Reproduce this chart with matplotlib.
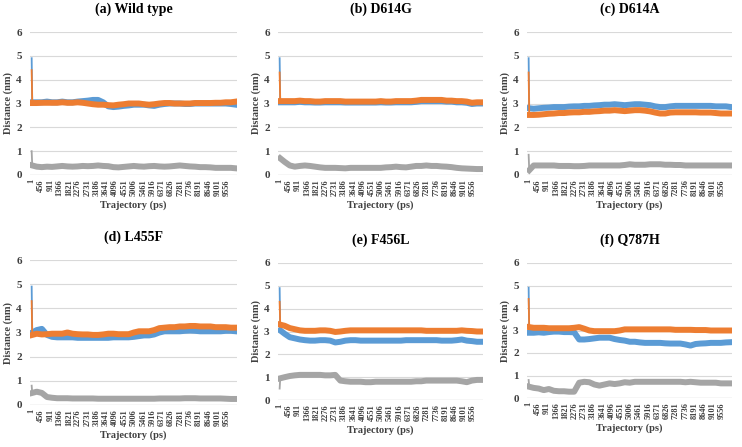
import matplotlib
matplotlib.use("Agg")
from matplotlib import pyplot as plt

# trajectory sample points (ps): first frame, fast relaxation, then every 250 ps
frames = [1, 30] + [250 * k for k in range(1, 41)]
tick_vals = list(range(1, 10001, 455))

titles = ["(a) Wild type", "(b) D614G", "(c) D614A",
          "(d) L455F", "(e) F456L", "(f) Q787H"]

blue_a = [4.9, 3.05] + [3.05, 3.05, 3.08, 3.05, 3.05, 3.08, 3.05, 3.05, 3.08, 3.1,
                        3.12, 3.15, 3.15, 3.05, 2.88, 2.85, 2.87, 2.9, 2.92, 2.95,
                        2.95, 2.95, 2.92, 2.9, 2.95, 2.98, 3.0, 3.0, 3.0, 2.98,
                        2.98, 3.0, 3.0, 3.0, 3.0, 3.0, 3.0, 3.0, 2.98, 2.95]
orange_a = [4.4, 3.02] + [3.02, 3.03, 3.03, 3.03, 3.03, 3.05, 3.03, 3.03, 3.05, 3.03,
                          3.0, 2.97, 2.95, 2.95, 2.93, 2.92, 2.95, 2.97, 3.0, 3.0,
                          3.0, 2.97, 2.95, 2.97, 3.0, 3.02, 3.02, 3.0, 3.0, 3.0,
                          3.0, 3.02, 3.02, 3.02, 3.02, 3.03, 3.03, 3.05, 3.05, 3.08]
gray_a = [1.0, 0.4] + [0.35, 0.33, 0.35, 0.34, 0.36, 0.38, 0.36, 0.35, 0.36, 0.38,
                       0.37, 0.38, 0.4, 0.38, 0.37, 0.33, 0.32, 0.34, 0.36, 0.38,
                       0.36, 0.35, 0.37, 0.38, 0.36, 0.35, 0.36, 0.38, 0.4, 0.38,
                       0.36, 0.35, 0.33, 0.33, 0.32, 0.3, 0.3, 0.3, 0.3, 0.28]

blue_b = [4.9, 3.05] + [3.05, 3.05, 3.05, 3.07, 3.05, 3.05, 3.04, 3.04, 3.05, 3.05,
                        3.05, 3.05, 3.04, 3.04, 3.04, 3.04, 3.04, 3.04, 3.04, 3.05,
                        3.04, 3.04, 3.05, 3.05, 3.05, 3.05, 3.07, 3.1, 3.1, 3.1,
                        3.1, 3.1, 3.08, 3.08, 3.05, 3.05, 3.03, 2.98, 3.0, 3.0]
orange_b = [4.3, 3.1] + [3.1, 3.1, 3.1, 3.12, 3.1, 3.1, 3.08, 3.08, 3.1, 3.1,
                         3.1, 3.1, 3.08, 3.08, 3.08, 3.08, 3.08, 3.08, 3.08, 3.1,
                         3.08, 3.08, 3.1, 3.1, 3.1, 3.1, 3.12, 3.15, 3.15, 3.15,
                         3.15, 3.15, 3.12, 3.12, 3.1, 3.1, 3.08, 3.03, 3.05, 3.05]
gray_b = [0.8, 0.7] + [0.55, 0.4, 0.35, 0.38, 0.4, 0.38, 0.35, 0.32, 0.3, 0.3,
                       0.3, 0.29, 0.28, 0.3, 0.3, 0.3, 0.3, 0.3, 0.3, 0.3,
                       0.32, 0.33, 0.35, 0.33, 0.32, 0.35, 0.38, 0.38, 0.4, 0.38,
                       0.38, 0.36, 0.35, 0.33, 0.3, 0.28, 0.27, 0.26, 0.25, 0.25]

blue_c = [4.9, 2.8] + [2.78, 2.8, 2.82, 2.83, 2.85, 2.85, 2.85, 2.87, 2.88, 2.88,
                       2.9, 2.9, 2.92, 2.93, 2.95, 2.95, 2.97, 2.95, 2.93, 2.95,
                       2.97, 2.97, 2.95, 2.93, 2.88, 2.85, 2.85, 2.88, 2.9, 2.9,
                       2.9, 2.9, 2.9, 2.9, 2.9, 2.9, 2.88, 2.88, 2.88, 2.85]
orange_c = [4.3, 2.52] + [2.52, 2.53, 2.55, 2.57, 2.58, 2.6, 2.6, 2.62, 2.63, 2.63,
                          2.65, 2.65, 2.67, 2.68, 2.7, 2.7, 2.72, 2.7, 2.68, 2.7,
                          2.72, 2.72, 2.7, 2.67, 2.62, 2.58, 2.58, 2.62, 2.63, 2.63,
                          2.63, 2.63, 2.63, 2.62, 2.62, 2.62, 2.6, 2.58, 2.58, 2.58]
gray_c = [0.85, 0.2] + [0.4, 0.4, 0.4, 0.4, 0.4, 0.38, 0.38, 0.38, 0.37, 0.37,
                        0.38, 0.4, 0.4, 0.4, 0.4, 0.4, 0.4, 0.4, 0.42, 0.45,
                        0.43, 0.43, 0.43, 0.45, 0.45, 0.45, 0.43, 0.43, 0.42, 0.42,
                        0.4, 0.4, 0.4, 0.4, 0.4, 0.4, 0.4, 0.4, 0.4, 0.4]

blue_d = [4.9, 3.0] + [3.1, 3.15, 2.9, 2.82, 2.8, 2.8, 2.8, 2.8, 2.78, 2.78,
                       2.78, 2.78, 2.78, 2.78, 2.78, 2.8, 2.8, 2.8, 2.8, 2.82,
                       2.85, 2.88, 2.88, 2.92, 3.0, 3.05, 3.05, 3.05, 3.05, 3.07,
                       3.08, 3.07, 3.05, 3.05, 3.05, 3.05, 3.05, 3.07, 3.07, 3.05]
orange_d = [4.3, 2.9] + [2.95, 2.92, 2.93, 2.95, 2.95, 2.95, 3.0, 2.95, 2.93, 2.92,
                         2.92, 2.9, 2.9, 2.92, 2.95, 2.95, 2.93, 2.93, 2.93, 3.0,
                         3.05, 3.05, 3.05, 3.1, 3.18, 3.2, 3.22, 3.22, 3.25, 3.25,
                         3.27, 3.27, 3.25, 3.25, 3.25, 3.22, 3.22, 3.22, 3.2, 3.2]
gray_d = [0.8, 0.5] + [0.55, 0.5, 0.33, 0.3, 0.28, 0.28, 0.28, 0.27, 0.27, 0.27,
                       0.27, 0.27, 0.26, 0.26, 0.26, 0.26, 0.26, 0.26, 0.26, 0.26,
                       0.26, 0.26, 0.26, 0.26, 0.27, 0.27, 0.27, 0.27, 0.27, 0.28,
                       0.28, 0.28, 0.27, 0.27, 0.27, 0.27, 0.27, 0.26, 0.25, 0.25]

blue_e = [4.9, 3.05] + [2.9, 2.75, 2.7, 2.65, 2.62, 2.6, 2.6, 2.62, 2.62, 2.6,
                        2.52, 2.55, 2.6, 2.62, 2.62, 2.6, 2.6, 2.6, 2.6, 2.6,
                        2.6, 2.6, 2.6, 2.6, 2.62, 2.62, 2.62, 2.62, 2.62, 2.62,
                        2.62, 2.6, 2.6, 2.6, 2.62, 2.65, 2.6, 2.58, 2.55, 2.55]
orange_e = [4.3, 3.3] + [3.25, 3.15, 3.1, 3.05, 3.03, 3.03, 3.03, 3.05, 3.05, 3.03,
                         2.98, 3.0, 3.03, 3.05, 3.05, 3.05, 3.05, 3.05, 3.05, 3.05,
                         3.05, 3.05, 3.05, 3.05, 3.05, 3.05, 3.05, 3.05, 3.03, 3.03,
                         3.03, 3.03, 3.03, 3.03, 3.03, 3.05, 3.03, 3.02, 3.0, 3.0]
gray_e = [0.5, 0.95] + [1.0, 1.05, 1.08, 1.1, 1.1, 1.1, 1.1, 1.1, 1.08, 1.08,
                        1.1, 0.85, 0.82, 0.8, 0.8, 0.8, 0.78, 0.78, 0.8, 0.8,
                        0.8, 0.8, 0.8, 0.8, 0.8, 0.8, 0.82, 0.82, 0.85, 0.85,
                        0.85, 0.85, 0.85, 0.85, 0.85, 0.82, 0.78, 0.85, 0.88, 0.88]

blue_f = [4.9, 2.9] + [2.9, 2.92, 2.9, 2.93, 2.95, 2.95, 2.93, 2.93, 2.92, 2.6,
                       2.6, 2.62, 2.65, 2.68, 2.68, 2.68, 2.62, 2.58, 2.55, 2.5,
                       2.5, 2.47, 2.45, 2.45, 2.45, 2.45, 2.43, 2.42, 2.42, 2.42,
                       2.38, 2.33, 2.4, 2.42, 2.43, 2.45, 2.45, 2.45, 2.47, 2.48]
orange_f = [4.4, 3.15] + [3.12, 3.12, 3.12, 3.1, 3.1, 3.1, 3.1, 3.1, 3.12, 3.15,
                          3.08, 3.0, 2.97, 2.97, 2.97, 2.97, 2.97, 3.0, 3.05, 3.05,
                          3.05, 3.05, 3.05, 3.05, 3.05, 3.05, 3.05, 3.05, 3.03, 3.03,
                          3.03, 3.03, 3.02, 3.02, 3.02, 3.0, 3.0, 3.0, 3.0, 3.0]
gray_f = [0.8, 0.5] + [0.45, 0.42, 0.35, 0.4, 0.32, 0.3, 0.3, 0.28, 0.28, 0.68,
                       0.72, 0.7, 0.6, 0.55, 0.6, 0.65, 0.62, 0.65, 0.7, 0.68,
                       0.72, 0.72, 0.72, 0.72, 0.72, 0.72, 0.72, 0.72, 0.72, 0.72,
                       0.7, 0.72, 0.7, 0.68, 0.68, 0.68, 0.68, 0.65, 0.65, 0.65]

blues = [blue_a, blue_b, blue_c, blue_d, blue_e, blue_f]
oranges = [orange_a, orange_b, orange_c, orange_d, orange_e, orange_f]
grays = [gray_a, gray_b, gray_c, gray_d, gray_e, gray_f]

# axes boxes in pixels: left, right, top (y=6), bottom (y=0)
W, H = 742, 447
boxes = [(30, 237, 32, 175), (278, 483, 32, 175), (527, 732, 32, 175),
         (30, 237, 260, 405), (278, 483, 263, 400), (527, 732, 263, 398)]

serif = "Liberation Serif"
fig = plt.figure(figsize=(W / 100, H / 100), dpi=100)


def draw_series(ax, vals, color):
    # thin line for the start-up spike, thick band for the rest
    ax.plot(frames[:3], vals[:3], color=color, lw=1.3)
    ax.plot(frames[1:], vals[1:], color=color, lw=4.3, solid_joinstyle="round")


for i, (x0, x1, yt, yb) in enumerate(boxes):
    ax = fig.add_axes([x0 / W, 1 - yb / H, (x1 - x0) / W, (yb - yt) / H])
    for y in range(1, 7):
        ax.axhline(y, color="#d9d9d9", lw=0.8, zorder=0)
    ax.axhline(0, color="#bfbfbf", lw=0.9, zorder=0)

    draw_series(ax, blues[i], "#5b9bd5")
    draw_series(ax, oranges[i], "#ed7d31")
    draw_series(ax, grays[i], "#a5a5a5")

    ax.set_xlim(-80, 10050)
    ax.set_ylim(0, 6)
    ax.set_yticks(range(0, 7))
    ax.set_xticks(tick_vals)
    ax.set_xticklabels([str(t) for t in tick_vals], rotation=90)
    for s in ax.spines.values():
        s.set_visible(False)
    ax.tick_params(axis="both", length=0)
    ax.tick_params(axis="y", labelsize=8, pad=6)
    ax.tick_params(axis="x", labelsize=6, pad=3)
    for lab in ax.get_xticklabels() + ax.get_yticklabels():
        lab.set_fontfamily(serif)
        lab.set_fontweight("bold")
        lab.set_color("#404040")

    ax.set_title(titles[i], fontsize=10, fontweight="bold", family=serif, pad=14)
    ax.set_ylabel("Distance (nm)", fontsize=7.5, fontweight="bold", family=serif,
                  color="#404040", labelpad=2)
    ax.set_xlabel("Trajectory (ps)", fontsize=7.5, fontweight="bold", family=serif,
                  color="#404040", labelpad=3)

fig.savefig("out.png", dpi=100)
